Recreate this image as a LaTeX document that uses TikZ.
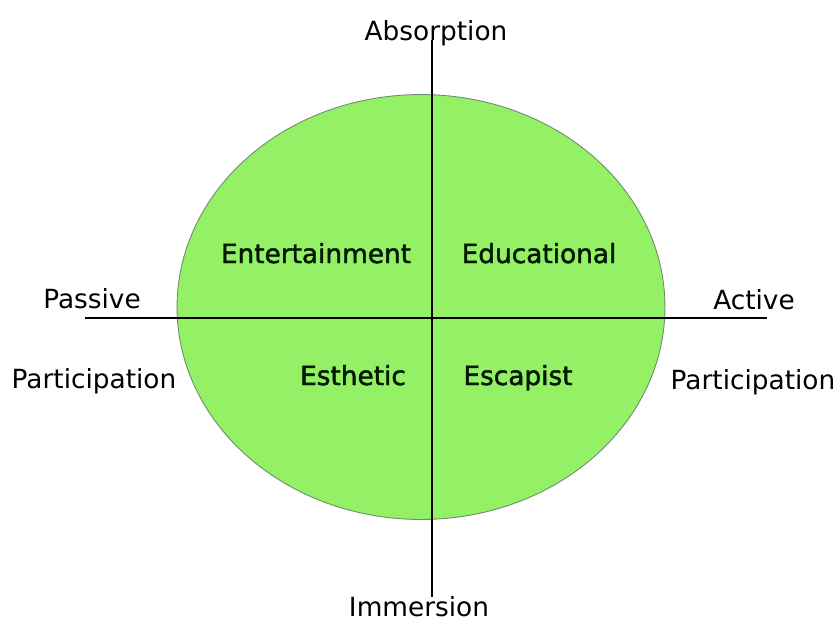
\documentclass[tikz,border=0pt]{standalone}
\usepackage{fontspec}
\setmainfont{DejaVu Sans}
\newfontfamily\realmfont[FakeBold=1.6]{DejaVu Sans}
\usetikzlibrary{shapes.geometric, positioning}

\definecolor{discgreen}{RGB}{148,240,100}
\definecolor{discline}{RGB}{110,140,110}

\begin{document}
\begin{tikzpicture}[
    x=0.02cm, y=-0.02cm,
    lab/.style={anchor=base, inner sep=0pt, font=\fontsize{15}{18}\selectfont},
    quad/.style={lab, font=\realmfont\fontsize{15}{18}\selectfont, text=black!85!green!60!black},
    disc/.style={ellipse, draw=discline, fill=discgreen, line width=0.5pt, inner sep=0pt},
    axis/.style={draw=black, line width=0.8pt}
]
\useasboundingbox (0,0) rectangle (838,620);

% the experience disc
\node[disc, minimum width=9.76cm, minimum height=8.5cm] (realm) at (421,307) {};

% axis end points
\coordinate (absend) at (432,40);
\coordinate (immend) at (432,597);
\coordinate (pasend) at (85,318);
\coordinate (actend) at (767,318);

\draw[axis] (absend) -- (immend);
\draw[axis] (pasend) -- (actend);

% axis labels
\node[lab] (absorb) at (436,40) {Absorption};
\node[lab] (immerse) at (419,616) {Immersion};
\node[lab] (passive) at (92,308) {Passive};
\node[lab] (partl) at (94,388) {Participation};
\node[lab] (active) at (754,309) {Active};
\node[lab] (partr) at (753,389) {Participation};

% the four realms
\node[quad] (entert) at (316,263) {Entertainment};
\node[quad] (educ) at (539,263) {Educational};
\node[quad] (esth) at (353,385) {Esthetic};
\node[quad] (escap) at (518,385) {Escapist};

\end{tikzpicture}
\end{document}
